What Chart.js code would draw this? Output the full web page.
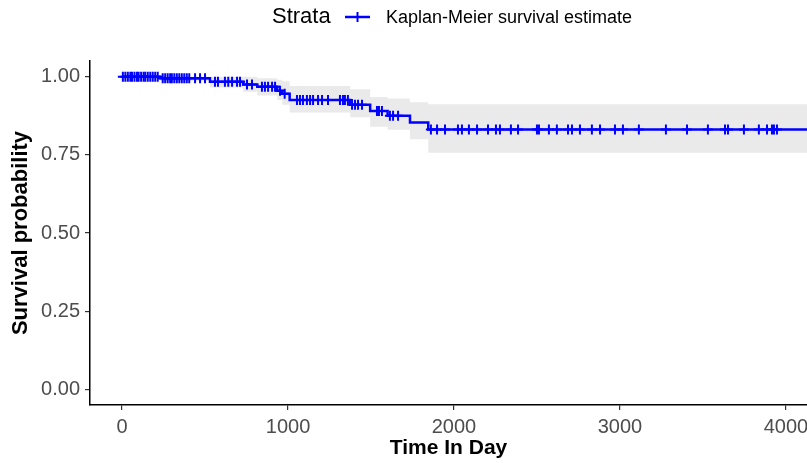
<!DOCTYPE html>
<html><head><meta charset="utf-8">
<script src="https://cdn.jsdelivr.net/npm/chart.js@4"></script>
<style>html,body{margin:0;padding:0;background:#fff}#wrap{position:relative;width:807px;height:463px}</style>
</head><body><div id="wrap"><canvas id="c" width="807" height="463"></canvas></div>
<script>
// Kaplan-Meier step data (time in days, survival probability)
const eventTimes = [0, 230, 530, 730, 815, 935, 965, 1010, 1375, 1495, 1600, 1735, 1845, 4130];
const survival   = [1, 0.995, 0.984, 0.975, 0.968, 0.955, 0.945, 0.925, 0.91, 0.89, 0.875, 0.853, 0.831, 0.831];
const upperCI    = [1, 1, 1, 1, 0.995, 0.99, 0.985, 0.97, 0.96, 0.935, 0.93, 0.918, 0.912, 0.912];
const lowerCI    = [1, 0.985, 0.965, 0.952, 0.94, 0.925, 0.91, 0.885, 0.87, 0.84, 0.83, 0.8, 0.757, 0.757];
// censoring times
const censorTimes = [5, 20, 35, 50, 60, 75, 90, 100, 115, 130, 140, 155, 170, 185, 200, 215, 245, 260, 275, 290, 300, 315, 330, 345, 360, 375, 390, 405,
  440, 470, 500, 560, 578, 620, 640, 663, 693, 711, 753, 783, 843, 861, 880, 904, 922, 952, 980, 1054,
  1072, 1090, 1114, 1133, 1151, 1181, 1205, 1241, 1313, 1331, 1343, 1361, 1386, 1404, 1422, 1446, 1536, 1548, 1566, 1614, 1633, 1663,
  1861, 1898, 1946, 2024, 2048, 2090, 2139, 2205, 2253, 2277, 2343, 2386, 2500, 2512, 2572, 2620, 2687, 2711, 2759, 2831, 2880, 2970,
  3018, 3114, 3277, 3404, 3530, 3633, 3651, 3747, 3837, 3886, 3916, 3928, 3946];
const xTicks = [0, 1000, 2000, 3000, 4000];
const yTicks = [0, 0.25, 0.5, 0.75, 1];
const legendTitle = 'Strata';
const seriesLabel = 'Kaplan-Meier survival estimate';

function survAt(t) {
  let v = survival[0];
  for (let i = 0; i < eventTimes.length; i++) { if (eventTimes[i] <= t) v = survival[i]; }
  return v;
}
const toPts = arr => eventTimes.map((t, i) => ({x: t, y: arr[i]}));
const BLUE = '#0000FF';

const legendPlugin = {
  id: 'kmLegend',
  afterDraw(chart) {
    const ctx = chart.ctx;
    ctx.save();
    ctx.fillStyle = '#000';
    ctx.textBaseline = 'middle';
    ctx.font = '22px "Liberation Sans", Arial, sans-serif';
    ctx.fillText(legendTitle, 272, 17);
    ctx.strokeStyle = BLUE; ctx.lineWidth = 2.5;
    ctx.beginPath(); ctx.moveTo(345, 17); ctx.lineTo(370, 17); ctx.stroke();
    ctx.lineWidth = 2;
    ctx.beginPath(); ctx.moveTo(357.5, 12); ctx.lineTo(357.5, 22); ctx.stroke();
    ctx.font = '18px "Liberation Sans", Arial, sans-serif';
    ctx.fillText(seriesLabel, 386, 18);
    ctx.restore();
  }
};

new Chart(document.getElementById('c'), {
  type: 'line',
  data: {
    datasets: [
      { label: 'censor', type: 'scatter', data: censorTimes.map(t => ({x: t, y: survAt(t)})),
        pointStyle: 'cross', pointRadius: 5, pointBorderWidth: 2, borderColor: BLUE, backgroundColor: BLUE, showLine: false },
      { label: seriesLabel, data: toPts(survival), stepped: 'before', borderColor: BLUE, borderWidth: 2.5, pointRadius: 0, fill: false },
      { label: 'upper', data: toPts(upperCI), stepped: 'before', borderWidth: 0, borderColor: 'rgba(0,0,0,0)', pointRadius: 0,
        fill: {target: 3}, backgroundColor: 'rgb(234,234,234)' },
      { label: 'lower', data: toPts(lowerCI), stepped: 'before', borderWidth: 0, borderColor: 'rgba(0,0,0,0)', pointRadius: 0, fill: false }
    ]
  },
  options: {
    responsive: false, animation: false, devicePixelRatio: 1,
    layout: { autoPadding: false, padding: { top: 61, right: 0, left: 0, bottom: 0 } },
    plugins: { legend: { display: false }, tooltip: { enabled: false } },
    scales: {
      x: {
        type: 'linear', min: -193, max: 4127,
        afterFit: s => { s.height = 58; s.paddingLeft = 0; s.paddingRight = 0; },
        afterBuildTicks: s => { s.ticks = xTicks.map(v => ({value: v})); },
        ticks: { color: '#4d4d4d', font: { size: 20, family: '"Liberation Sans", Arial, sans-serif' }, padding: 5, maxRotation: 0,
          callback: v => String(v) },
        grid: { drawOnChartArea: false, tickLength: 5, color: '#333', lineWidth: 1.2 },
        border: { display: true, color: '#000', width: 1.5 },
        title: { display: true, text: 'Time In Day', color: '#000', font: { size: 21, weight: 'bold', family: '"Liberation Sans", Arial, sans-serif' }, padding: {top: 2, bottom: 2} }
      },
      y: {
        type: 'linear', min: -0.05, max: 1.05,
        afterFit: s => { s.width = 90; s.paddingTop = 0; s.paddingBottom = 0; },
        afterBuildTicks: s => { s.ticks = yTicks.map(v => ({value: v})); },
        ticks: { color: '#4d4d4d', font: { size: 20, family: '"Liberation Sans", Arial, sans-serif' }, padding: 5,
          callback: v => Number(v).toFixed(2) },
        grid: { drawOnChartArea: false, tickLength: 5, color: '#333', lineWidth: 1.2 },
        border: { display: true, color: '#000', width: 1.5 },
        title: { display: true, text: 'Survival probability', color: '#000', font: { size: 22, weight: 'bold', family: '"Liberation Sans", Arial, sans-serif' }, padding: {top: 8, bottom: 4} }
      }
    }
  },
  plugins: [legendPlugin]
});
</script>
</body></html>
